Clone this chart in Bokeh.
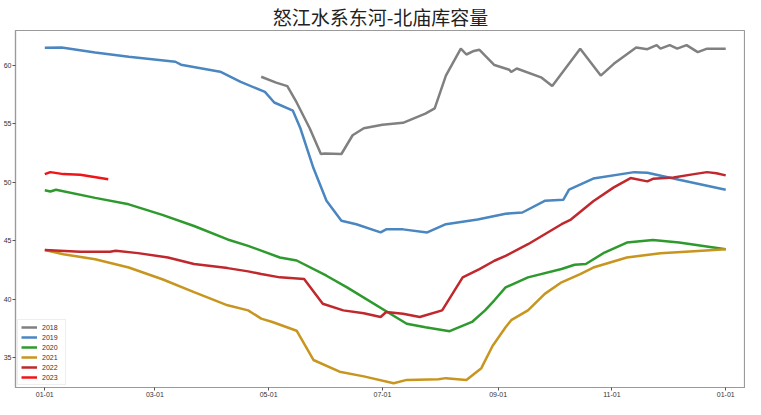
from bokeh.plotting import figure
from bokeh.models import Range1d, FixedTicker, Legend, LegendItem
from bokeh.embed import file_html
from bokeh.resources import INLINE

title_text = "怒江水系东河-北庙库容量"

tick_days = [0, 59, 120, 181, 243, 304, 365]
tick_labels = ["01-01", "03-01", "05-01", "07-01", "09-01", "11-01", "01-01"]
y_ticks = [35, 40, 45, 50, 55, 60]

d2018 = [116, 124, 130, 135, 142, 148, 150, 159, 165, 171, 181, 192, 204, 209, 215, 223, 226, 230, 233,
         241, 249, 250, 253, 266, 272, 287, 298, 305, 317, 323, 328, 330, 335, 339, 344, 350, 355, 365]
v2018 = [59.0, 58.5, 58.2, 56.8, 54.6, 52.4, 52.45, 52.4, 54.0, 54.6, 54.9, 55.06, 55.85, 56.3, 59.1, 61.4, 60.9, 61.2, 61.3,
         60.0, 59.6, 59.4, 59.7, 58.95, 58.2, 61.4, 59.1, 60.1, 61.5, 61.35, 61.7, 61.4, 61.7, 61.4, 61.7, 61.1, 61.4, 61.4]

d2019 = [0, 9, 27, 45, 70, 73, 94, 105, 118, 123, 133, 137, 144, 151, 159, 167, 180, 183, 192, 205, 215, 232,
         247, 256, 268, 278, 281, 294, 316, 323, 340, 365]
v2019 = [61.47, 61.5, 61.08, 60.7, 60.28, 60.03, 59.43, 58.56, 57.7, 56.8, 56.1, 54.6, 51.2, 48.4, 46.7, 46.4, 45.7, 45.96,
         45.96, 45.7, 46.4, 46.8, 47.3, 47.4, 48.4, 48.5, 49.35, 50.3, 50.85, 50.8, 50.2, 49.35]

d2020 = [0, 3, 6, 27, 45, 63, 80, 98, 109, 126, 135, 151, 162, 194, 204, 217, 229, 236, 241, 247, 259, 277, 284,
         290, 300, 312, 326, 340, 365]
v2020 = [49.3, 49.2, 49.35, 48.65, 48.1, 47.2, 46.25, 45.1, 44.55, 43.56, 43.3, 42.0, 41.0, 37.9, 37.6, 37.26, 38.05,
         39.04, 39.9, 41.0, 41.86, 42.57, 42.94, 43.0, 43.98, 44.83, 45.06, 44.83, 44.26]

d2021 = [0, 10, 27, 45, 63, 80, 98, 109, 116, 122, 135, 144, 158, 171, 187, 194, 211, 215, 226, 234, 240, 247,
         250, 259, 268, 277, 287, 294, 312, 330, 348, 365]
v2021 = [44.2, 43.84, 43.4, 42.7, 41.7, 40.6, 39.47, 39.04, 38.33, 38.05, 37.3, 34.8, 33.8, 33.4, 32.82, 33.1, 33.16,
         33.25, 33.1, 34.1, 36.0, 37.6, 38.2, 39.04, 40.45, 41.44, 42.14, 42.7, 43.56, 43.92, 44.1, 44.26]

d2022 = [0, 19, 35, 38, 50, 66, 80, 98, 109, 116, 126, 139, 149, 160, 171, 180, 183, 192, 201, 213, 224, 233, 241,
         247, 259, 277, 282, 294, 305, 314, 323, 326, 337, 348, 355, 360, 365]
v2022 = [44.2, 44.04, 44.04, 44.13, 43.93, 43.56, 43.0, 42.65, 42.37, 42.14, 41.86, 41.72, 39.6, 39.04, 38.8, 38.47,
         38.9, 38.75, 38.47, 39.04, 41.86, 42.57, 43.28, 43.7, 44.69, 46.4, 46.8, 48.36, 49.55, 50.34, 50.06, 50.28,
         50.4, 50.68, 50.85, 50.76, 50.57]

d2023 = [0, 3, 10, 19, 34]
v2023 = [50.68, 50.85, 50.68, 50.62, 50.25]

series = [
    ("2018", d2018, v2018, "#808080"),
    ("2019", d2019, v2019, "#4a86c0"),
    ("2020", d2020, v2020, "#2e9a2e"),
    ("2021", d2021, v2021, "#c8951f"),
    ("2022", d2022, v2022, "#c0282d"),
    ("2023", d2023, v2023, "#f01418"),
]

p = figure(width=745, height=399, output_backend="svg", toolbar_location=None,
           x_range=Range1d(-15.7, 375.6), y_range=Range1d(32.45, 62.95),
           min_border_left=0, min_border_right=0, min_border_top=0, min_border_bottom=0)

p.title.text = title_text
p.title.align = "center"
p.title.text_font = "Noto Sans CJK SC"
p.title.text_font_size = "19px"
p.title.text_font_style = "normal"
p.title.text_color = "#222222"
p.title.standoff = 1

p.xgrid.visible = False
p.ygrid.visible = False
p.outline_line_color = "#9a9a9a"
p.outline_line_width = 1.2

for ax in (p.xaxis[0], p.yaxis[0]):
    ax.axis_line_color = "#9a9a9a"
    ax.axis_line_width = 1.2
    ax.major_tick_line_color = "#555555"
    ax.major_tick_in = 0
    ax.major_tick_out = 3
    ax.minor_tick_line_color = None
    ax.major_label_text_font_size = "7px"
    ax.major_label_text_line_height = 1.0
    ax.major_label_text_color = "#333333"
    ax.major_label_standoff = 1
    ax.axis_label_standoff = 0
    ax.axis_label_text_font_size = "0px"

p.xaxis.ticker = FixedTicker(ticks=tick_days)
p.xaxis.major_label_overrides = {d: l for d, l in zip(tick_days, tick_labels)}
p.yaxis.ticker = FixedTicker(ticks=y_ticks)

items = []
for name, d, v, c in series:
    r = p.line(d, v, line_color=c, line_width=2.5)
    items.append(LegendItem(label=name, renderers=[r]))

legend = Legend(items=items, location="bottom_left")
legend.label_text_font_size = "7px"
legend.label_text_color = "#333333"
legend.label_height = 8
legend.glyph_height = 8
legend.glyph_width = 16
legend.spacing = 2
legend.padding = 3
legend.margin = 2
legend.border_line_color = "#dddddd"
legend.background_fill_alpha = 0.9
p.add_layout(legend)

open("out.html", "w").write(file_html(p, INLINE))
